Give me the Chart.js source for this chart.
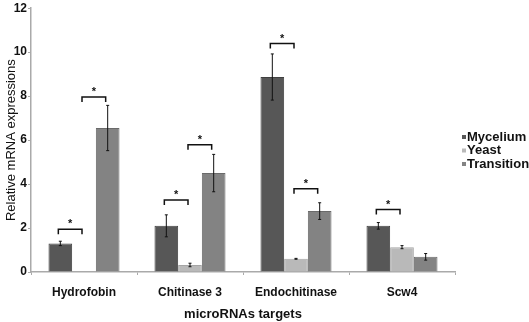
<!DOCTYPE html>
<html>
<head>
<meta charset="utf-8">
<script src="https://cdn.jsdelivr.net/npm/chart.js@4"></script>
<style>
  html, body { margin: 0; padding: 0; background: #fff; }
  #wrap { width: 529px; height: 322px; }
</style>
</head>
<body>
<div id="wrap"><canvas id="grafica" width="529" height="322"></canvas></div>
<script>
// datos
const targets = ['Hydrofobin', 'Chitinase 3', 'Endochitinase', 'Scw4'];
const mycelium = [1.3, 2.1, 8.87, 2.1];
const myceliumErr = [0.1, 0.5, 1.05, 0.15];
const yeast = [0.02, 0.32, 0.6, 1.13];
const yeastErr = [0, 0.08, 0.02, 0.07];
const transition = [6.55, 4.5, 2.77, 0.69];
const transitionErr = [1.03, 0.85, 0.38, 0.15];
const yTicks = [0, 2, 4, 6, 8, 10, 12];
// corchetes de significancia: categoria, serie a, serie b, altura
const brackets = [
  [0, 0, 1, 1.95], [0, 1, 2, 7.96],
  [1, 0, 1, 3.27], [1, 1, 2, 5.79],
  [2, 0, 1, 10.39], [2, 1, 2, 3.79],
  [3, 0, 1, 2.84]
];

const errs = [myceliumErr, yeastErr, transitionErr];
const fuente = '"Liberation Sans", Arial, sans-serif';

// barras de error + corchetes + leyenda
const extras = {
  id: 'extras',
  afterDatasetsDraw(chart) {
    const ctx = chart.ctx;
    const y = chart.scales.y;
    ctx.save();
    ctx.strokeStyle = '#111';
    ctx.lineWidth = 1;
    chart.data.datasets.forEach((ds, i) => {
      const meta = chart.getDatasetMeta(i);
      meta.data.forEach((bar, j) => {
        const e = errs[i][j];
        if (!e) return;
        const top = y.getPixelForValue(ds.data[j] + e);
        const bot = y.getPixelForValue(ds.data[j] - e);
        ctx.beginPath();
        ctx.moveTo(bar.x, top); ctx.lineTo(bar.x, bot);
        ctx.moveTo(bar.x - 1.5, top); ctx.lineTo(bar.x + 1.5, top);
        ctx.moveTo(bar.x - 1.5, bot); ctx.lineTo(bar.x + 1.5, bot);
        ctx.stroke();
      });
    });
    ctx.lineWidth = 1.5;
    ctx.fillStyle = '#111';
    ctx.font = 'bold 11px ' + fuente;
    ctx.textAlign = 'center';
    brackets.forEach(b => {
      const x1 = chart.getDatasetMeta(b[1]).data[b[0]].x - 2;
      const x2 = chart.getDatasetMeta(b[2]).data[b[0]].x - 2;
      const py = y.getPixelForValue(b[3]);
      ctx.beginPath();
      ctx.moveTo(x1, py + 5); ctx.lineTo(x1, py); ctx.lineTo(x2, py); ctx.lineTo(x2, py + 5);
      ctx.stroke();
      ctx.fillText('*', (x1 + x2) / 2, py - 2);
    });
    // leyenda
    ctx.font = 'bold 13px ' + fuente;
    ctx.textAlign = 'left';
    ctx.textBaseline = 'middle';
    chart.data.datasets.forEach((ds, i) => {
      const ly = 137 + i * 13.5;
      ctx.fillStyle = ds.backgroundColor;
      ctx.fillRect(462, ly - 2, 4, 4);
      ctx.fillStyle = '#111';
      ctx.fillText(ds.label, 467, ly);
    });
    ctx.restore();
  }
};

new Chart(document.getElementById('grafica').getContext('2d'), {
  type: 'bar',
  data: {
    labels: targets,
    datasets: [
      { label: 'Mycelium', data: mycelium, backgroundColor: '#575757', borderColor: '#404040', borderWidth: 1 },
      { label: 'Yeast', data: yeast, backgroundColor: '#b9b9b9', borderColor: '#a5a5a5', borderWidth: 1 },
      { label: 'Transition', data: transition, backgroundColor: '#838383', borderColor: '#6a6a6a', borderWidth: 1 }
    ]
  },
  options: {
    responsive: false,
    animation: false,
    layout: { padding: { left: 0, right: 74, top: 7, bottom: 0 } },
    plugins: { legend: { display: false }, tooltip: { enabled: false } },
    datasets: { bar: { categoryPercentage: 0.67, barPercentage: 1 } },
    scales: {
      x: {
        grid: { drawOnChartArea: false, tickLength: 3, color: '#aaa' },
        border: { color: '#aaa', width: 1.5 },
        ticks: { color: '#111', font: { family: fuente, size: 12, weight: 'bold' }, padding: 10 },
        title: { display: true, text: 'microRNAs targets', color: '#111', font: { family: fuente, size: 13, weight: 'bold' }, padding: { top: 0, bottom: 0 } },
        afterFit: s => { s.height = 50; }
      },
      y: {
        min: 0, max: 12,
        afterBuildTicks: s => { s.ticks = yTicks.map(v => ({ value: v })); },
        grid: { drawOnChartArea: false, tickLength: 3, color: '#aaa' },
        border: { color: '#aaa', width: 1.5 },
        ticks: { color: '#111', font: { family: fuente, size: 12, weight: 'bold' }, padding: 1 },
        title: { display: true, text: 'Relative mRNA expressions', color: '#111', font: { family: fuente, size: 13 }, padding: { left: 2, right: 0 } },
        afterFit: s => { s.width = 31; }
      }
    }
  },
  plugins: [extras]
});
</script>
</body>
</html>
